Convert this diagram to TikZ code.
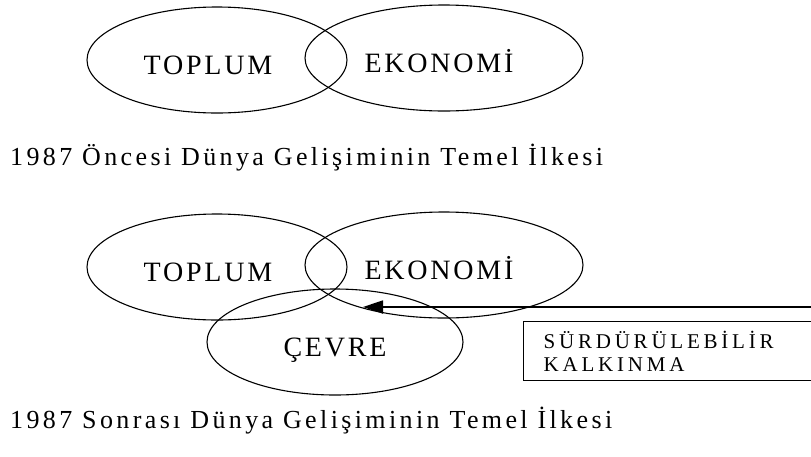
\documentclass[tikz,border=0pt]{standalone}
\usepackage{fontspec}
\setmainfont{Liberation Serif}
\usepackage{tikz}
\usetikzlibrary{shapes.geometric, arrows.meta, positioning}
\newfontfamily\wideser{Liberation Serif}[LetterSpace=10]
\newfontfamily\capser{Liberation Serif}[LetterSpace=13]
\newfontfamily\boxser{Liberation Serif}[LetterSpace=18]
\tikzset{
  set/.style={ellipse, draw, line width=1.1pt, inner sep=0pt,
    minimum width=260pt, minimum height=106pt, text height=28pt, text depth=0pt,
    font=\wideser\fontsize{28}{30}\selectfont},
  caption/.style={anchor=base west, inner sep=0pt,
    font=\capser\fontsize{26}{28}\selectfont},
  sbox/.style={rectangle, draw, line width=1.3pt, anchor=north west, align=left,
    minimum width=300pt, minimum height=59pt, inner xsep=20pt, inner ysep=0pt,
    text width=270pt, font=\boxser\fontsize{21}{23}\selectfont},
  ar/.style={-{Triangle[length=20pt, width=13pt]}, line width=1.8pt},
}

\begin{document}
\begin{tikzpicture}[x=1pt, y=-1pt]
  \useasboundingbox (0,0) rectangle (811,456);

  % before 1987
  \node[set] (top1) at (217,60) {TOPLUM\hspace*{18pt}};
  \node[set, minimum width=278pt] (eko1) at (444,58) {EKONOMİ\hspace*{10pt}};
  \node[caption] (cap1) at (10,165) {1987 Öncesi Dünya Gelişiminin Temel İlkesi};

  % after 1987
  \node[set] (top2) at (217,267) {TOPLUM\hspace*{18pt}};
  \node[set, minimum width=278pt] (eko2) at (444,265) {EKONOMİ\hspace*{10pt}};
  \node[set, minimum width=256pt] (cev2) at (335,342) {ÇEVRE};
  \node[sbox] (surd) at (523,321) {SÜRDÜRÜLEBİLİR\\KALKINMA};
  \node[caption] (cap2) at (10,428) {1987 Sonrası Dünya Gelişiminin Temel İlkesi};

  \coordinate (surdin) at (815,307);
  \coordinate (kesisim) at (363,307);
  \draw[ar] (surdin) -- (kesisim);
\end{tikzpicture}
\end{document}
